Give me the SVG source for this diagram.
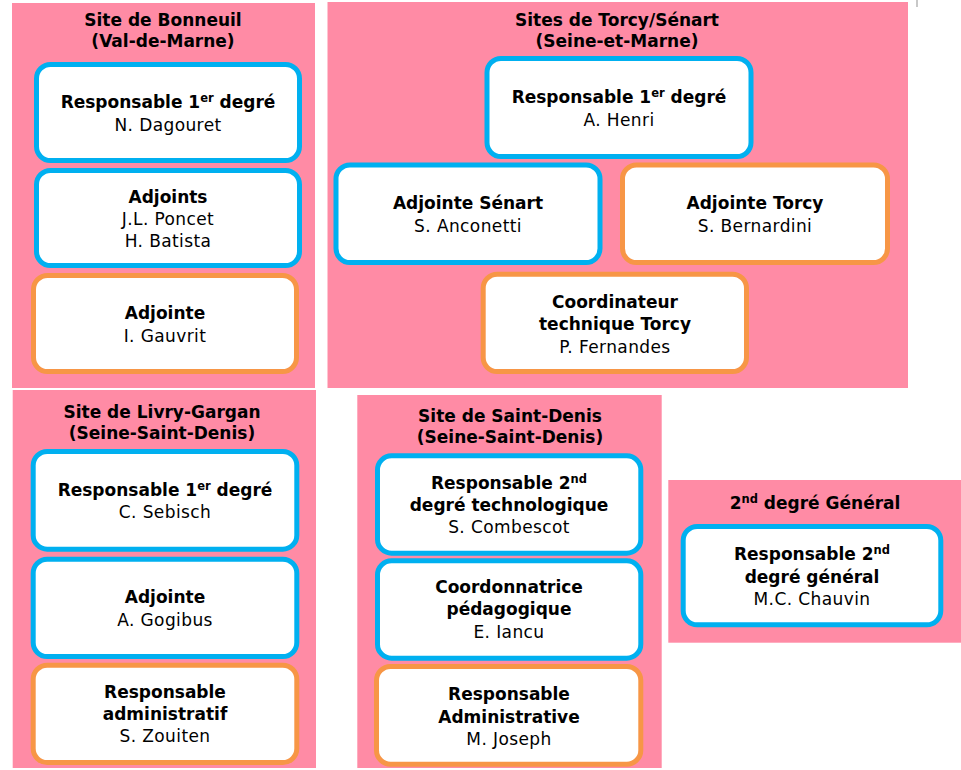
<svg xmlns="http://www.w3.org/2000/svg" width="961" height="770" viewBox="0 0 961 770">
<style>
.panel{fill:#FF8BA5}
.box{fill:#FFFFFF;stroke-width:5}
.blue{stroke:#00B0F0}
.orange{stroke:#F79646}
text{font-family:"DejaVu Sans","Liberation Sans",sans-serif;fill:#000;text-anchor:middle}
.b{font-weight:bold;font-size:17px}
.r{font-size:17px;letter-spacing:0.4px}
.sup{font-size:11.5px}
</style>
<rect width="961" height="770" fill="#FFFFFF"/>
<line x1="917" y1="0" x2="917" y2="7" stroke="#C8C8C8" stroke-width="2"/>
<rect x="906" y="4" width="2" height="2" fill="#9A9A9A"/>

<g id="bonneuil">
<rect class="panel" x="12" y="3" width="303" height="385"/>
<text class="b" x="163" y="26">Site de Bonneuil</text>
<text class="b" x="163" y="47">(Val-de-Marne)</text>
<g id="bonneuil-resp">
<rect class="box blue" x="36.5" y="64.5" width="263" height="96" rx="14"/>
<text class="b" x="168" y="108">Responsable 1<tspan class="sup" dy="-6">er</tspan><tspan dy="6"> degré</tspan></text>
<text class="r" x="168" y="131">N. Dagouret</text>
</g>
<g id="bonneuil-adjoints">
<rect class="box blue" x="36.5" y="170.5" width="263" height="95" rx="14"/>
<text class="b" x="168" y="203">Adjoints</text>
<text class="r" x="168" y="225">J.L. Poncet</text>
<text class="r" x="168" y="247">H. Batista</text>
</g>
<g id="bonneuil-adjointe">
<rect class="box orange" x="33.5" y="275.5" width="263" height="96" rx="14"/>
<text class="b" x="165" y="319">Adjointe</text>
<text class="r" x="165" y="342">I. Gauvrit</text>
</g>
</g>

<g id="torcy-senart">
<rect class="panel" x="327.5" y="2" width="580.5" height="386"/>
<text class="b" x="617" y="26">Sites de Torcy/Sénart</text>
<text class="b" x="617" y="47">(Seine-et-Marne)</text>
<g id="torcy-resp">
<rect class="box blue" x="487" y="58.5" width="264" height="98" rx="14"/>
<text class="b" x="619" y="103">Responsable 1<tspan class="sup" dy="-6">er</tspan><tspan dy="6"> degré</tspan></text>
<text class="r" x="619" y="126">A. Henri</text>
</g>
<g id="senart-adjointe">
<rect class="box blue" x="336" y="165" width="264" height="97.5" rx="14"/>
<text class="b" x="468" y="209">Adjointe Sénart</text>
<text class="r" x="468" y="232">S. Anconetti</text>
</g>
<g id="torcy-adjointe">
<rect class="box orange" x="622.5" y="165" width="265" height="97.5" rx="14"/>
<text class="b" x="755" y="209">Adjointe Torcy</text>
<text class="r" x="755" y="232">S. Bernardini</text>
</g>
<g id="torcy-coord">
<rect class="box orange" x="483.2" y="274.2" width="263.3" height="97.3" rx="14"/>
<text class="b" x="615" y="308">Coordinateur</text>
<text class="b" x="615" y="330">technique Torcy</text>
<text class="r" x="615" y="353">P. Fernandes</text>
</g>
</g>

<g id="livry-gargan">
<rect class="panel" x="12.7" y="390" width="303.3" height="378"/>
<text class="b" x="162" y="418">Site de Livry-Gargan</text>
<text class="b" x="162" y="439">(Seine-Saint-Denis)</text>
<g id="livry-resp">
<rect class="box blue" x="33.2" y="451.5" width="263.6" height="97.7" rx="14"/>
<text class="b" x="165" y="496">Responsable 1<tspan class="sup" dy="-6">er</tspan><tspan dy="6"> degré</tspan></text>
<text class="r" x="165" y="518">C. Sebisch</text>
</g>
<g id="livry-adjointe">
<rect class="box blue" x="33.2" y="559.2" width="263.6" height="97.3" rx="14"/>
<text class="b" x="165" y="603">Adjointe</text>
<text class="r" x="165" y="626">A. Gogibus</text>
</g>
<g id="livry-admin">
<rect class="box orange" x="33.2" y="665.2" width="263.6" height="97.3" rx="14"/>
<text class="b" x="165" y="698">Responsable</text>
<text class="b" x="165" y="720">administratif</text>
<text class="r" x="165" y="742">S. Zouiten</text>
</g>
</g>

<g id="saint-denis">
<rect class="panel" x="357.3" y="395" width="304.4" height="373"/>
<text class="b" x="510" y="422">Site de Saint-Denis</text>
<text class="b" x="510" y="443">(Seine-Saint-Denis)</text>
<g id="sd-resp">
<rect class="box blue" x="377.5" y="455.8" width="263.3" height="97.4" rx="14"/>
<text class="b" x="509" y="489">Responsable 2<tspan class="sup" dy="-6">nd</tspan></text>
<text class="b" x="509" y="511">degré technologique</text>
<text class="r" x="509" y="533">S. Combescot</text>
</g>
<g id="sd-coord">
<rect class="box blue" x="377.5" y="560.8" width="263.3" height="97.4" rx="14"/>
<text class="b" x="509" y="593">Coordonnatrice</text>
<text class="b" x="509" y="615">pédagogique</text>
<text class="r" x="509" y="638">E. Iancu</text>
</g>
<g id="sd-admin">
<rect class="box orange" x="376.5" y="666.5" width="264.3" height="97.7" rx="14"/>
<text class="b" x="509" y="700">Responsable</text>
<text class="b" x="509" y="723">Administrative</text>
<text class="r" x="509" y="745">M. Joseph</text>
</g>
</g>

<g id="second-general">
<rect class="panel" x="668.3" y="480" width="292.7" height="162.7"/>
<text class="b" x="815" y="509">2<tspan class="sup" dy="-6">nd</tspan><tspan dy="6"> degré Général</tspan></text>
<g id="general-resp">
<rect class="box blue" x="683.2" y="526.5" width="257.6" height="98.3" rx="14"/>
<text class="b" x="812" y="560">Responsable 2<tspan class="sup" dy="-6">nd</tspan></text>
<text class="b" x="812" y="583">degré général</text>
<text class="r" x="812" y="605">M.C. Chauvin</text>
</g>
</g>

<g id="connectors"/>
</svg>
